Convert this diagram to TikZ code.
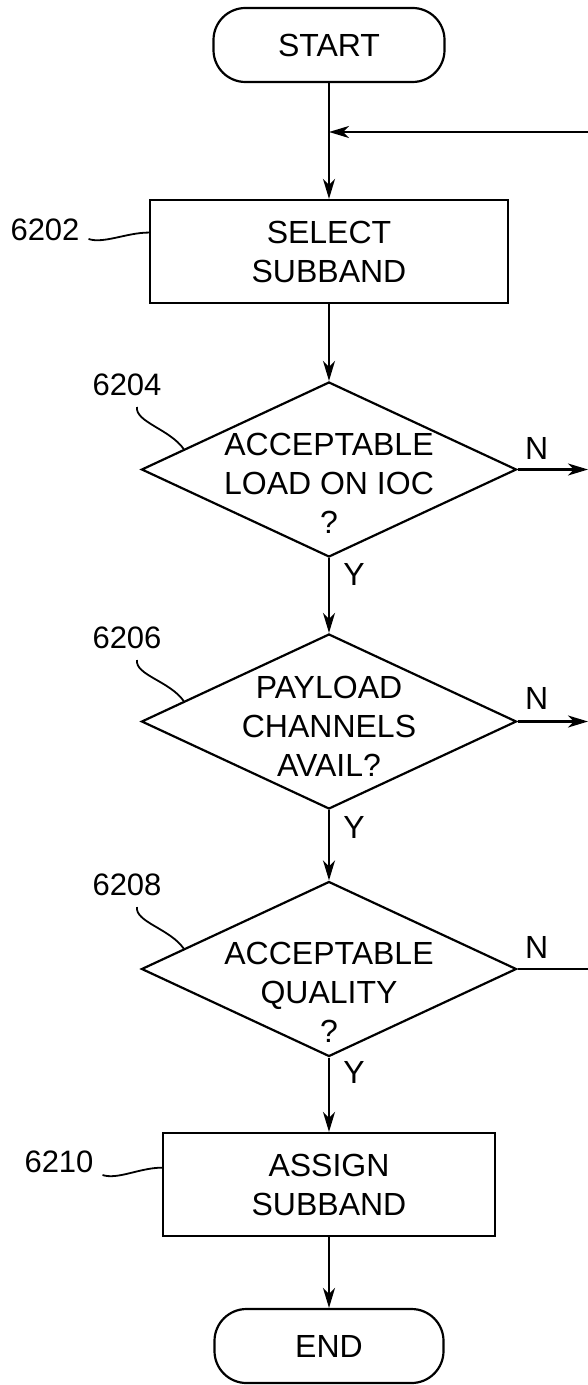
\documentclass[tikz,border=0pt]{standalone}
\usepackage{fontspec}
\setmainfont{Liberation Sans}
\usetikzlibrary{arrows.meta,calc,shapes.geometric}
\begin{document}
\begin{tikzpicture}[x=0.5pt,y=-0.5pt,
  every node/.style={font=\fontsize{16}{19.5}\selectfont},
  line/.style={line width=1.1pt},
  arr/.style={line width=1.1pt,-{Stealth[length=10pt,width=6pt,inset=3pt]}},
  term/.style={draw,line width=1.1pt,rounded corners=16pt,minimum width=115.5pt,minimum height=37pt,inner sep=0pt},
  proc/.style={draw,line width=1.1pt,minimum height=51.5pt,align=center,inner sep=0pt},
  dia/.style={draw,line width=1.1pt,diamond,minimum width=187.5pt,minimum height=87.5pt,inner sep=0pt},
  ref/.style={font=\fontsize{15.5}{18}\selectfont},
  lead/.style={line width=0.9pt},
  dtext/.style={align=center,inner sep=0pt}
]
\path[use as bounding box] (0,0) rectangle (588,1385);

% nodes
\node[term] (start) at (329,45) {START};
\node[proc,minimum width=179pt] (select) at (329,251.5) {SELECT\\SUBBAND};
\node[dia] (d1) at (329,469.5) {};
\node[dtext] (t1) at (329,483.5) {ACCEPTABLE\\LOAD ON IOC\\?};
\node[dia] (d2) at (329,721.5) {};
\node[dtext] (t2) at (329,726.5) {PAYLOAD\\CHANNELS\\AVAIL?};
\node[dia] (d3) at (329,969) {};
\node[dtext] (t3) at (329,992) {ACCEPTABLE\\QUALITY\\?};
\node[proc,minimum width=166pt] (assign) at (329,1184.5) {ASSIGN\\SUBBAND};
\node[term,minimum width=114.5pt] (end) at (329,1346) {END};

% main flow
\draw[arr] (start) -- (select);
\coordinate (fbR) at (588,132);
\coordinate (fbL) at (329,132);
\draw[arr] (fbR) -- (fbL);
\draw[arr] (select) -- (d1);
\draw[arr] (d1) -- (d2);
\draw[arr] (d2) -- (d3);
\draw[arr] (d3) -- (assign);
\draw[arr] (assign) -- (end);

% N exits
\coordinate (n1) at (588,469.5);
\coordinate (n2) at (588,721.5);
\coordinate (n3) at (588,969);
\draw[arr] (d1.east) -- (n1);
\draw[arr] (d2.east) -- (n2);
\draw[line] (d3.east) -- (n3);

% Y / N labels
\node (y1) at ($(d1.south)+(25,16)$) {Y};
\node (y2) at ($(d2.south)+(25,17)$) {Y};
\node (y3) at ($(d3.south)+(25,15)$) {Y};
\node (nl1) at ($(d1.east)+(19,-21)$) {N};
\node (nl2) at ($(d2.east)+(19,-23)$) {N};
\node (nl3) at ($(d3.east)+(19,-22)$) {N};

% reference numerals
\node[ref] (l6202) at (45,230) {6202};
\node[ref] (l6204) at (127,385) {6204};
\node[ref] (l6206) at (127,638) {6206};
\node[ref] (l6208) at (127,885) {6208};
\node[ref] (l6210) at (59,1162) {6210};

\coordinate (e6202) at ($(select.north west)!0.32!(select.south west)$);
\coordinate (e6210) at ($(assign.north west)!0.34!(assign.south west)$);
\coordinate (e6204) at ($(d1.west)!0.23!(d1.north)$);
\coordinate (e6206) at ($(d2.west)!0.23!(d2.north)$);
\coordinate (e6208) at ($(d3.west)!0.23!(d3.north)$);

\draw[lead] ($(l6202.east)+(2,9)$) .. controls +(15,5) and +(-22,0) .. (e6202);
\draw[lead] ($(l6210.east)+(2,13)$) .. controls +(15,5) and +(-22,0) .. (e6210);
\draw[lead] ($(l6204)+(10,22)$) .. controls +(-2,15) and +(-14,-20) .. (e6204);
\draw[lead] ($(l6206)+(10,22)$) .. controls +(-2,15) and +(-14,-20) .. (e6206);
\draw[lead] ($(l6208)+(10,22)$) .. controls +(-2,15) and +(-14,-20) .. (e6208);
\end{tikzpicture}
\end{document}
